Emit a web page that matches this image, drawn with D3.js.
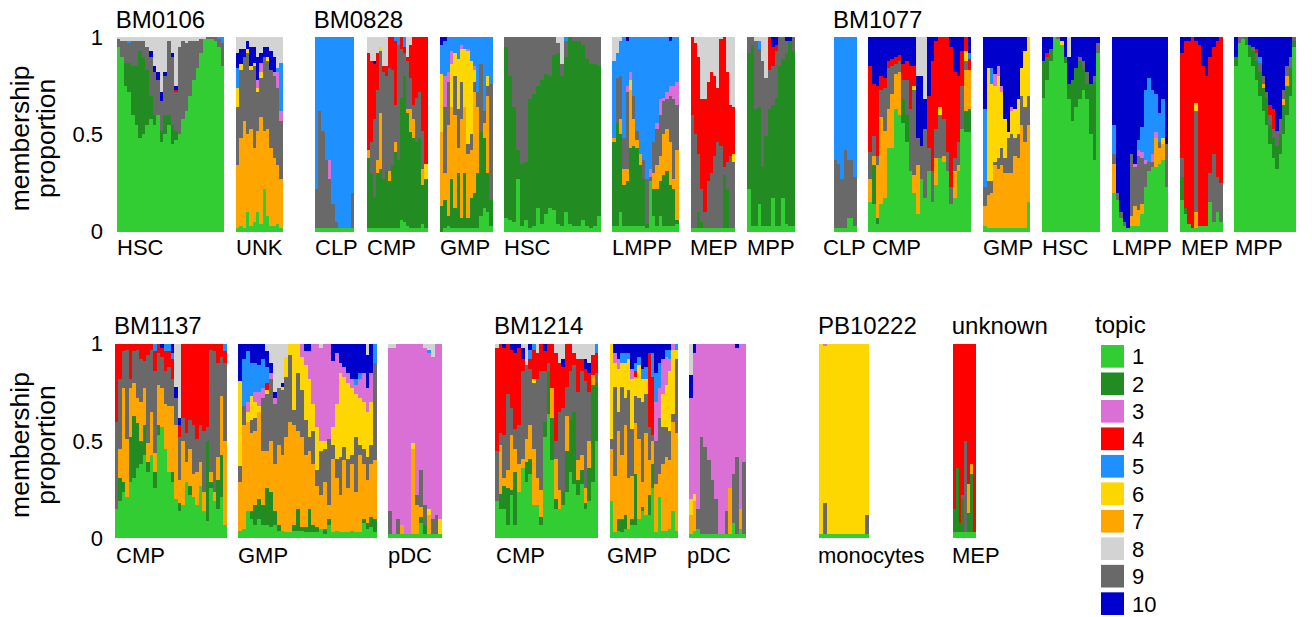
<!DOCTYPE html>
<html>
<head>
<meta charset="utf-8">
<script src="https://cdn.jsdelivr.net/npm/d3@7"></script>
<style>
body { margin: 0; background: #fff; }
text { font-family: "Liberation Sans", Arial, Helvetica, sans-serif; fill: #000; }
</style>
</head>
<body>
<svg width="1312" height="617"></svg>
<script>
// topics, colours and the order they are stacked in (bottom -> top)
var topics = [1, 2, 3, 4, 5, 6, 7, 8, 9, 10];
var topicColors = ["#32cd32", "#228b22", "#da70d6", "#ff0000", "#1e90ff",
                   "#ffd700", "#ffa500", "#d3d3d3", "#696969", "#0000cd"];
var stackOrder = [1, 2, 7, 9, 6, 3, 4, 5, 10, 8];
var tickValues = [0, 0.5, 1];

// one string per cell: "topic:percent" pairs
var bm0106_hsc = ["1:95 9:4 8:1", "1:90 9:8 8:2", "1:75 2:12 9:11 8:2", "1:72 2:15 9:10 5:1 8:2",
  "1:60 2:25 9:13 8:2", "1:55 2:30 9:13 8:2", "1:48 2:45 9:5 8:2", "1:50 2:40 9:8 8:2",
  "1:55 2:28 9:12 8:5", "1:58 2:12 9:20 10:3 8:7", "1:55 2:5 9:22 10:3 8:15", "1:60 9:18 10:4 8:18",
  "1:46 2:6 9:15 10:5 8:28", "1:50 2:10 9:20 10:2 8:18", "1:55 2:5 9:38 8:2", "1:45 2:10 9:35 10:2 8:8",
  "1:47 2:5 9:20 4:1 10:2 8:25", "1:50 9:45 8:5", "1:58 9:40 8:2", "1:62 9:35 8:3",
  "1:70 9:28 8:2", "1:78 9:20 8:2", "1:84 9:14 8:2", "1:92 9:7 8:1", "1:99 8:1",
  "1:99 9:1", "1:99 9:1", "1:98 9:2", "1:95 9:4 5:1", "1:85 9:12 5:3"];
var bm0106_unk = ["1:2 7:32 9:30 6:10 5:10 10:8 8:8", "1:3 7:45 9:35 6:3 10:8 8:6", "1:2 7:55 9:33 10:4 8:6",
  "1:10 7:40 9:42 6:2 10:4 8:2", "1:3 7:50 9:30 6:2 10:10 8:5", "1:5 7:38 9:42 6:2 10:8 8:5",
  "1:10 7:42 9:20 6:2 3:4 10:12 8:10", "1:4 7:55 9:20 6:3 3:5 10:5 8:8", "1:22 7:30 9:38 10:5 8:5",
  "1:8 7:45 9:35 6:2 10:5 8:5", "1:3 7:40 9:40 10:10 8:7", "1:3 7:35 9:42 3:2 10:8 8:10",
  "1:4 7:30 9:40 3:8 5:2 8:16", "1:2 7:25 9:30 3:5 5:25 8:13"];

var bm0828_clp = ["1:2 9:20 5:78", "1:2 9:60 5:38", "1:2 9:50 5:48", "1:2 9:35 5:63", "1:2 9:25 3:10 5:63",
  "1:2 9:12 5:86", "1:2 9:3 5:95", "1:2 5:98", "1:2 5:98", "1:2 5:98", "1:2 5:98", "1:2 9:18 5:80"];
var bm0828_cmp = ["1:2 2:36 7:4 4:50 8:8", "1:2 2:28 9:16 4:42 8:12", "1:2 2:16 9:40 4:28 10:2 8:12",
  "1:2 2:28 7:7 9:36 4:19 8:8", "1:2 2:30 7:29 9:32 6:2 8:5", "1:2 2:25 9:55 4:3 8:15",
  "1:2 2:29 9:49 4:5 8:15", "1:2 2:24 7:5 9:53 4:16", "1:2 2:32 9:49 4:17", "1:2 2:39 7:5 9:19 4:33 5:2",
  "1:2 2:35 9:59 5:4", "1:6 2:63 9:25 4:6", "1:5 2:75 9:12 4:3 5:5", "1:3 2:58 7:2 9:25 4:2 8:10",
  "1:2 2:49 7:12 9:16 4:17 8:4", "1:2 2:46 7:10 9:7 4:35", "1:2 2:44 9:23 4:31", "1:2 2:46 9:24 4:28",
  "1:4 2:20 7:8 9:20 4:48", "1:2 2:25 6:8 4:65"];
var bm0828_gmp = ["2:13 7:38 6:30 5:15 10:4", "1:2 2:14 7:14 9:34 3:16 5:18 10:2", "1:3 2:5 7:47 9:22 3:5 5:18",
  "1:2 2:25 7:37 6:22 3:7 5:7", "1:2 2:10 7:48 9:20 6:12 5:8", "1:2 2:28 7:13 9:20 6:26 5:11",
  "1:2 2:5 7:51 9:19 6:17 3:2 5:4", "1:2 2:28 7:34 6:30 5:6", "1:2 2:5 7:33 9:5 6:48 3:1 5:6",
  "1:2 2:15 7:25 9:8 6:38 5:12", "1:2 2:18 7:52 9:5 6:6 3:2 5:15", "1:2 2:28 7:34 9:8 5:28",
  "1:8 2:43 9:35 5:14", "1:12 2:36 7:8 9:6 5:38", "1:10 2:20 7:40 9:5 6:5 5:20", "1:3 2:13 9:60 5:24"];
var bm0828_hsc = ["1:7 2:88 9:5", "1:6 2:74 9:20", "1:5 2:59 9:36", "1:27 2:15 9:58", "1:3 2:32 9:65",
  "1:6 2:30 9:64", "1:2 2:66 9:32", "1:3 2:68 9:29", "1:12 2:63 9:25", "1:4 2:74 9:22", "1:9 2:72 9:19",
  "1:12 2:68 9:20", "1:11 2:80 9:9", "1:4 2:88 9:5 8:3", "1:3 2:77 9:6 8:14", "1:10 2:80 9:8 5:2",
  "1:4 2:96", "1:3 2:95 9:2", "1:3 2:95 9:2", "1:6 2:90 9:4", "1:3 2:86 9:11", "1:2 2:84 9:14",
  "1:3 2:83 9:14", "1:8 2:77 9:15"];
var bm0828_lmpp = ["1:3 2:43 7:2 5:40 8:12", "1:3 2:53 9:23 5:13 8:8", "1:10 2:40 7:8 9:22 5:18 8:2",
  "1:3 2:21 7:8 9:16 5:52", "1:3 2:23 7:6 9:40 3:3 5:23 10:2", "1:3 2:40 7:30 6:5 3:4 5:18",
  "1:3 2:41 7:14 9:12 5:30", "1:3 2:40 7:4 9:5 5:48", "1:3 2:31 7:6 5:60", "1:3 2:24 9:10 5:63",
  "1:2 2:2 9:23 5:73", "1:26 9:2 3:4 5:68", "1:8 2:14 7:8 9:16 5:54", "1:3 2:19 7:12 9:19 3:3 5:44",
  "1:8 2:18 7:13 9:21 3:8 5:32", "1:3 2:26 7:21 9:17 3:2 5:31", "1:3 2:28 7:22 9:15 3:4 5:28",
  "1:3 2:21 7:22 9:24 3:5 5:23 10:2", "1:3 2:19 7:5 9:41 3:7 5:25", "1:4 2:2 7:36 9:23 3:12 5:23"];
var bm0828_mep = ["1:2 9:58 4:40", "1:2 9:48 4:47 8:3", "1:2 2:8 9:30 4:50 8:10", "1:2 2:3 9:17 4:46 8:32",
  "1:2 9:8 4:58 8:32", "1:2 9:24 4:51 8:23", "1:2 9:28 4:52 8:18", "1:2 9:37 4:41 8:20",
  "1:2 9:44 4:28 8:26", "1:2 9:42 4:55 8:1", "1:2 2:27 9:4 4:67", "1:2 2:20 9:14 4:46 8:18",
  "1:2 9:37 4:26 8:35", "1:2 9:34 6:4 4:24 8:36"];
var bm0828_mpp = ["1:22 2:70 9:8", "1:3 2:93 9:4", "1:3 2:60 9:35 8:2", "1:14 2:50 9:30 5:4 8:2",
  "1:3 2:30 9:55 8:12", "1:3 2:46 9:30 8:21", "1:3 2:60 9:20 4:17", "1:17 2:48 9:20 4:10 10:5",
  "1:3 2:66 9:24 4:3 10:4", "1:3 2:82 9:15", "1:17 2:72 9:11", "1:4 2:88 9:6 10:2", "1:3 2:95 10:2",
  "1:3 2:90 9:7"];

var bm1077_clp = ["1:2 9:35 5:63", "1:2 9:33 5:65", "1:2 9:25 5:73", "1:2 9:40 5:58", "1:7 9:30 5:63",
  "1:7 9:30 5:63", "1:3 9:25 5:72"];
var bm1077_cmp = ["1:15 7:12 9:14 4:44 10:15", "1:14 2:20 7:5 9:10 4:27 10:24", "1:4 2:3 7:27 9:5 4:36 10:25",
  "1:14 7:45 9:14 4:7 10:20", "1:17 7:35 9:22 4:5 10:21", "1:43 7:20 9:21 4:4 10:12",
  "1:43 7:28 9:14 4:4 10:11", "1:63 7:18 9:5 4:4 10:10", "1:60 7:22 9:6 4:3 10:9",
  "1:56 2:12 9:10 4:8 10:14", "1:46 2:14 9:18 4:10 10:12", "1:31 9:32 4:22 10:15",
  "1:20 7:9 9:44 6:2 4:10 10:15", "1:9 7:25 9:14 10:32 8:20", "1:27 9:17 10:36 8:20",
  "1:17 9:36 10:15 8:32", "1:31 9:12 4:27 10:30", "1:15 9:16 4:57 10:12", "1:24 7:14 9:15 4:45 10:2",
  "1:38 9:22 6:4 4:36", "1:36 7:3 9:19 4:42", "1:31 9:10 4:59", "1:14 9:9 4:72 10:5",
  "1:17 7:14 9:7 4:44 10:18", "1:31 7:3 9:12 4:34 10:20", "1:53 9:22 4:18 10:7",
  "1:51 2:11 7:21 9:5 6:5 4:7", "1:51 2:12 7:20 4:6 5:3 10:8"];
var bm1077_gmp = ["1:3 7:10 9:10 5:40 10:37", "1:2 7:17 9:7 6:58 10:16", "1:2 7:18 9:6 6:50 5:8 10:16",
  "1:2 7:32 9:2 6:39 3:6 10:19", "1:2 7:30 9:6 6:42 3:5 10:15", "1:2 7:32 9:9 6:29 3:3 10:25",
  "1:2 7:28 9:8 6:20 10:42", "1:2 7:28 9:18 6:3 10:49", "1:2 7:28 9:20 6:12 3:2 10:36",
  "1:2 7:37 9:9 6:15 10:37", "1:2 7:36 9:12 6:18 10:32", "1:2 7:53 9:15 6:14 10:16",
  "1:2 7:44 9:18 6:29 10:7", "1:15 7:40 9:15 6:30"];
var bm1077_hsc = ["1:69 2:19 10:12", "1:78 2:12 4:2 10:8", "1:88 2:6 10:6", "1:100", "1:99 9:1",
  "1:96 6:2 10:2", "1:87 2:3 10:10", "1:68 2:8 10:14 8:10", "1:57 2:21 10:22", "1:64 2:20 10:16",
  "1:68 2:20 9:2 10:10", "1:73 2:10 9:5 10:12", "1:68 2:8 9:6 10:18", "1:50 2:26 10:24",
  "1:37 2:40 9:3 10:20", "1:92 9:5 10:3"];
var bm1077_lmpp = ["1:20 7:15 9:5 5:15 10:45", "1:16 9:4 10:80", "1:7 9:3 10:90", "1:3 9:2 10:95", "1:2 10:98",
  "1:3 7:5 9:32 10:60", "1:3 7:10 9:20 3:2 10:65", "1:3 7:8 9:28 3:3 5:5 10:53",
  "1:9 7:5 9:24 3:3 5:13 10:46", "1:23 9:12 3:2 5:36 10:27", "1:31 9:5 5:43 10:21",
  "1:33 9:3 3:4 5:33 10:27", "1:33 7:15 3:3 5:20 10:29", "1:35 7:8 9:3 5:15 10:39",
  "1:37 7:8 6:3 5:20 10:32", "1:23 9:22 10:55"];
var bm1077_mep = ["1:16 2:12 9:10 4:54 10:8", "1:9 2:3 4:86 10:2", "1:4 4:94 10:2", "1:2 4:98",
  "1:2 7:8 9:52 6:4 4:32 10:2", "1:3 4:93 10:4", "1:3 4:82 10:15", "1:3 4:77 10:20",
  "1:15 9:15 4:60 10:10", "1:5 9:35 4:55 10:5", "1:10 9:18 4:70 10:2", "1:5 9:20 4:75"];
var bm1077_mpp = ["1:85 2:5 10:10", "1:97 9:3", "1:99 9:1", "1:96 2:4", "1:90 2:6 10:4",
  "1:85 2:8 9:2 10:5", "1:78 2:10 9:4 4:2 10:6", "1:70 2:12 9:5 5:3 10:10", "1:62 2:12 7:2 9:4 10:20",
  "1:55 2:14 9:3 10:28", "1:45 2:10 9:5 4:5 10:35", "1:38 2:10 9:5 4:10 10:37", "1:32 2:12 9:8 10:48",
  "1:40 2:10 9:8 10:42", "1:50 2:15 7:3 9:5 10:27", "1:60 2:15 7:5 9:5 10:15", "1:70 2:14 9:6 10:10",
  "1:95 2:3 9:2"];

var bm1137_cmp = ["1:15 9:45 4:40", "1:19 2:12 7:15 9:36 4:18", "1:24 2:5 7:48 9:19 4:4", "1:21 7:30 9:46 4:3",
  "1:29 2:23 7:25 9:5 4:18", "1:31 2:32 7:17 9:16 4:4", "1:36 2:23 7:13 9:25 4:3", "1:38 2:12 7:20 9:22 4:8",
  "1:43 2:15 7:19 9:14 4:9", "1:34 2:5 7:10 9:45 4:6", "1:43 7:22 9:32 4:3", "1:26 2:8 7:10 9:42 4:10 5:4",
  "1:53 2:5 7:21 9:16 4:5", "1:57 7:20 9:16 4:5 10:2", "1:46 7:23 9:17 4:10 5:4", "1:34 7:34 9:20 4:8 5:4",
  "1:29 2:5 7:34 9:14 4:10 5:3 10:5", "1:20 7:38 9:14 10:6 8:22", "1:14 2:4 7:12 9:22 4:6 10:4 8:38",
  "1:17 7:33 9:12 4:38", "1:29 7:10 9:15 4:46", "1:22 2:5 7:19 9:15 4:39", "1:21 7:12 9:25 4:42",
  "1:17 7:17 9:17 4:49", "1:27 7:12 9:19 4:42", "1:14 7:10 9:31 4:45", "1:9 2:41 9:7 4:43",
  "1:26 2:3 7:5 9:63 4:3", "1:19 7:5 9:72 4:4", "1:15 2:15 7:12 9:48 4:10", "1:21 2:22 7:30 9:20 4:7",
  "1:7 7:43 9:40 4:6 5:4"];
var bm1137_gmp = ["1:4 7:25 9:8 6:44 10:19", "1:5 7:53 9:10 5:24 10:8", "1:14 7:46 6:5 3:5 5:26 10:4",
  "1:10 2:4 7:40 9:7 6:12 5:17 10:10", "1:7 2:10 7:38 9:7 6:8 3:5 5:15 10:10",
  "1:10 2:10 7:45 6:3 3:7 5:14 10:11", "1:7 2:10 7:28 9:27 3:5 5:15 10:8",
  "1:7 2:19 7:19 9:29 6:2 4:4 5:8 10:8 8:4", "1:6 2:18 7:26 9:32 3:3 10:5 8:10",
  "1:7 2:7 7:24 9:31 3:3 10:3 8:25", "1:4 2:3 7:41 9:29 8:23", "1:4 7:39 9:33 6:2 10:2 8:20",
  "1:3 7:49 9:31 6:10 8:7", "1:3 7:57 9:34 6:6", "1:4 2:3 7:51 9:8 6:34", "1:4 2:11 7:40 9:30 6:15",
  "1:4 2:2 7:46 9:24 6:17 3:7", "1:3 2:3 7:37 9:18 6:28 3:7 10:4", "1:3 2:12 7:30 9:7 6:30 3:14 10:4",
  "1:3 2:4 7:31 9:17 6:14 3:31", "1:3 2:3 7:21 9:8 6:22 3:43", "1:5 7:17 9:23 6:5 3:48 8:2",
  "1:2 2:3 7:24 9:17 6:4 3:50", "1:7 2:3 7:7 9:34 3:49", "1:3 7:38 9:7 6:9 3:34 10:9",
  "1:4 7:27 9:10 6:28 3:26 10:5", "1:3 7:19 9:20 6:43 3:5 10:10", "1:3 7:37 9:7 6:36 3:5 10:12",
  "1:3 7:23 9:15 6:39 3:5 10:15", "1:4 7:34 9:5 6:34 3:5 10:18", "1:3 7:21 9:28 6:22 3:5 5:3 10:18",
  "1:3 7:40 9:5 6:24 3:10 5:3 10:15", "1:8 2:2 7:28 9:8 6:24 3:15 10:15",
  "1:5 2:3 7:22 9:12 6:23 3:12 10:17 8:6", "1:6 2:5 7:27 9:10 6:22 3:15 10:15", "1:3 2:7 7:30 9:50 5:10"];
var bm1137_pdc = ["1:2 9:12 3:84 8:2", "1:2 3:96 8:2", "1:2 9:8 3:90", "1:2 7:5 3:93", "1:2 3:98", "1:2 3:98",
  "1:2 7:44 6:3 3:51", "1:2 7:15 9:5 3:78", "1:8 2:3 7:5 9:19 3:65", "1:2 2:5 9:10 3:81 8:2",
  "1:2 7:10 6:3 3:80 5:2 8:3", "1:2 9:8 3:83 8:7", "1:2 9:10 3:88", "1:2 6:8 3:90"];

var bm1214_cmp = ["1:19 9:26 4:53 8:2", "1:15 2:8 7:25 9:6 4:46", "1:15 2:12 7:4 9:22 4:45 10:2",
  "1:7 2:19 7:9 9:39 4:26", "1:22 2:3 7:28 9:14 4:30 10:3", "1:7 2:27 7:12 9:10 4:39 10:5",
  "1:24 7:14 9:20 4:40 10:2", "1:36 7:5 9:45 4:6 10:6 8:2", "1:29 2:10 7:12 9:38 8:11",
  "1:33 2:8 7:17 9:29 4:5 5:5 10:3", "1:17 7:29 9:34 6:2 4:15 5:3", "1:17 7:14 9:51 4:13 8:5",
  "1:7 2:4 7:14 9:61 4:14", "1:52 2:8 9:26 4:10 10:4", "1:64 2:22 9:4 4:10", "1:40 2:22 7:15 4:23",
  "1:15 2:5 7:21 9:9 4:45 8:5", "1:15 7:10 9:40 4:25 8:10", "1:17 2:7 9:43 4:21 10:4 8:8",
  "1:24 2:21 7:18 9:15 4:22", "1:34 2:27 9:25 4:14", "1:28 2:37 9:24 4:6 8:5",
  "1:22 2:8 7:10 9:35 4:17 8:8", "1:28 2:7 7:8 9:43 4:6 8:8", "1:15 2:3 7:8 9:55 4:6 10:5 8:8",
  "1:19 2:17 7:14 9:25 4:10 10:5 8:10", "1:29 2:50 7:5 4:10 8:6", "1:50 2:30 9:5 4:10 5:5"];
var bm1214_gmp = ["1:19 7:27 9:5 6:49", "1:3 7:29 9:46 6:12 3:5 10:5", "1:4 2:6 7:45 9:10 6:22 3:5 10:8",
  "1:3 2:7 7:33 9:35 6:12 5:5 10:5", "1:5 2:7 7:46 9:14 6:18 5:5 10:5", "1:5 7:26 9:45 6:16 5:3 10:5",
  "1:7 2:3 7:22 9:24 6:26 3:5 10:13", "1:7 2:26 7:26 9:14 6:10 4:3 5:4 10:10",
  "1:10 7:41 9:21 6:17 5:4 10:7", "1:14 2:2 7:13 9:41 6:12 5:5 10:13", "1:12 7:42 9:20 6:8 5:6 10:12",
  "1:12 2:10 7:18 9:17 4:38 10:5", "1:26 2:12 7:12 9:3 4:30 5:12 10:5", "1:3 7:25 9:22 3:20 5:15 10:15",
  "1:21 7:12 9:29 3:15 5:13 10:10", "1:4 7:34 9:19 6:17 3:18 10:8", "1:4 7:38 9:15 6:22 3:14 5:4 10:3",
  "1:5 7:35 9:15 6:31 3:6 5:5 10:3", "1:14 7:46 9:4 6:33 3:3", "1:4 7:50 9:38 6:5 5:3"];
var bm1214_pdc = ["1:2 7:10 6:8 3:52 10:12 8:16", "1:4 7:15 6:4 3:72 10:5", "1:5 9:10 3:85", "1:2 9:50 3:48",
  "1:2 9:45 3:53", "1:2 9:38 3:60", "1:2 9:28 3:70", "1:2 9:18 3:80", "1:2 3:98", "1:2 3:98",
  "1:2 9:12 3:86", "1:2 7:24 3:74", "1:8 9:25 3:67", "1:2 9:40 3:56 10:2", "1:5 7:10 3:85",
  "1:2 9:37 3:61"];

var pb10222_mono = ["1:2 6:98", "1:2 9:16 6:81 3:1", "1:2 6:98", "1:2 6:98", "1:2 6:98", "1:2 6:98",
  "1:2 6:98", "1:2 6:98", "1:2 6:98", "1:2 6:98", "1:2 6:98", "1:2 9:10 6:88"];
var unknown_mep = ["1:3 2:12 4:85", "1:3 2:33 4:64", "1:3 2:5 4:92", "1:3 2:17 9:2 4:78", "1:3 9:47 4:50",
  "1:3 2:10 7:15 4:72", "1:3 2:30 7:5 4:62", "1:3 4:97"];

// panels and their groups
var panelNames = ["BM0106", "BM0828", "BM1077", "BM1137", "BM1214", "PB10222", "unknown"];
var panelRows = [0, 0, 0, 1, 1, 1, 1];
var groupLabels = [["HSC", "UNK"],
  ["CLP", "CMP", "GMP", "HSC", "LMPP", "MEP", "MPP"],
  ["CLP", "CMP", "GMP", "HSC", "LMPP", "MEP", "MPP"],
  ["CMP", "GMP", "pDC"], ["CMP", "GMP", "pDC"], ["monocytes"], ["MEP"]];
var groupData = [[bm0106_hsc, bm0106_unk],
  [bm0828_clp, bm0828_cmp, bm0828_gmp, bm0828_hsc, bm0828_lmpp, bm0828_mep, bm0828_mpp],
  [bm1077_clp, bm1077_cmp, bm1077_gmp, bm1077_hsc, bm1077_lmpp, bm1077_mep, bm1077_mpp],
  [bm1137_cmp, bm1137_gmp, bm1137_pdc], [bm1214_cmp, bm1214_gmp, bm1214_pdc],
  [pb10222_mono], [unknown_mep]];

// layout: pixel extent of every group and where its label starts
var groupExtents = [[[116.7, 224.3], [236, 282.7]],
  [[314.7, 354.3], [366.7, 427.5], [440.2, 492.5], [504, 600.7], [612.2, 678.7], [690.5, 735.3], [747.3, 795]],
  [[834, 856.7], [868.2, 971.3], [983.3, 1030], [1041.7, 1100], [1112.3, 1168.3], [1180, 1222.7], [1234.3, 1295.7]],
  [[115, 226.5], [238, 377.2], [388.3, 442.3]],
  [[495, 598.3], [610, 678.3], [689.2, 746]],
  [[819, 869]], [[952.7, 976]]];
var labelX = [[117, 236], [315, 367, 440, 504, 612, 690, 747], [823, 872, 983, 1042, 1112, 1181, 1235],
  [116, 238, 388], [496, 607, 687], [818], [952]];
var rowTop = [37.3, 343.7], rowBottom = [231.5, 538.3];
var titleBase = [27.5, 333.5], labelBase = [255, 563.3];

var svg = d3.select("svg");
var color = d3.scaleOrdinal().domain(topics).range(topicColors);
var stack = d3.stack().keys(stackOrder);

function parseBar(s) {
  var v = {};
  topics.forEach(function (t) { v[t] = 0; });
  s.split(" ").forEach(function (tok) {
    var kv = tok.split(":");
    v[+kv[0]] = +kv[1];
  });
  var total = d3.sum(topics, function (t) { return v[t]; });
  topics.forEach(function (t) { v[t] = v[t] / total; });
  return v;
}

var yScales = [0, 1].map(function (r) {
  return d3.scaleLinear().domain([0, 1]).range([rowBottom[r], rowTop[r]]);
});

// y axes and titles, one per row
[0, 1].forEach(function (r) {
  var ax = svg.append("g")
    .attr("transform", "translate(110,0)")
    .call(d3.axisLeft(yScales[r]).tickValues(tickValues).tickFormat(d3.format("")).tickSize(0).tickPadding(7));
  ax.select(".domain").remove();
  ax.selectAll("text").style("font-size", "22px").style("font-family", "Liberation Sans, Arial, sans-serif").attr("fill", "#000");

  var mid = (rowTop[r] + rowBottom[r]) / 2 + 4;
  svg.append("text")
    .attr("transform", "translate(29," + mid + ") rotate(-90)")
    .attr("text-anchor", "middle")
    .style("font-size", "26.5px")
    .text("membership");
  svg.append("text")
    .attr("transform", "translate(54.5," + mid + ") rotate(-90)")
    .attr("text-anchor", "middle")
    .style("font-size", "26.5px")
    .text("proportion");
});

panelNames.forEach(function (name, p) {
  var r = panelRows[p];
  var y = yScales[r];

  svg.append("text")
    .attr("x", groupExtents[p][0][0] - 1)
    .attr("y", titleBase[r])
    .style("font-size", "24px")
    .text(name);

  groupData[p].forEach(function (bars, gi) {
    var rows = bars.map(parseBar);
    var ext = groupExtents[p][gi];
    var x = d3.scaleBand().domain(d3.range(rows.length)).range(ext);

    svg.append("g")
      .selectAll("g")
      .data(stack(rows))
      .enter().append("g")
      .attr("fill", function (d) { return color(d.key); })
      .selectAll("rect")
      .data(function (d) { return d; })
      .enter().append("rect")
      .attr("x", function (d, i) { return x(i); })
      .attr("width", x.bandwidth())
      .attr("y", function (d) { return y(d[1]); })
      .attr("height", function (d) { return y(d[0]) - y(d[1]); })
      .attr("shape-rendering", "crispEdges");

    svg.append("text")
      .attr("x", labelX[p][gi])
      .attr("y", labelBase[r])
      .style("font-size", "22px")
      .text(groupLabels[p][gi]);
  });
});

// legend
var legend = svg.append("g").attr("transform", "translate(1095,0)");
legend.append("text")
  .attr("x", 0)
  .attr("y", 332.5)
  .style("font-size", "24px")
  .text("topic");
var ly = d3.scaleBand().domain(topics).range([345, 615]).paddingInner(0.175);
legend.selectAll("rect.key")
  .data(topics)
  .enter().append("rect")
  .attr("class", "key")
  .attr("x", 6)
  .attr("y", function (d) { return ly(d); })
  .attr("width", 23)
  .attr("height", ly.bandwidth())
  .attr("fill", function (d) { return color(d); });
legend.selectAll("text.lab")
  .data(topics)
  .enter().append("text")
  .attr("class", "lab")
  .attr("x", 37)
  .attr("y", function (d) { return ly(d) + ly.bandwidth() / 2; })
  .attr("dy", "0.36em")
  .style("font-size", "22px")
  .text(function (d) { return d; });
</script>
</body>
</html>
